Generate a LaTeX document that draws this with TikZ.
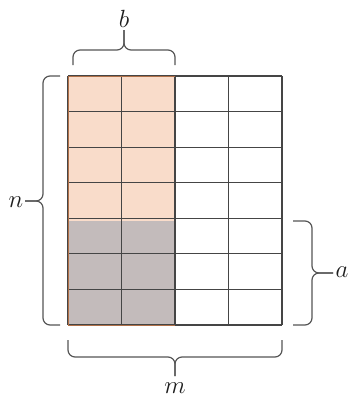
\documentclass[tikz,border=0pt]{standalone}
\usetikzlibrary{calc}
\definecolor{ink}{HTML}{1E1E1E}
\definecolor{gridC}{HTML}{454545}
\definecolor{peachC}{HTML}{F9DCCA}
\definecolor{greyC}{HTML}{C3BBBB}
\definecolor{edgeC}{HTML}{B07048}
\definecolor{braceC}{HTML}{555555}
\tikzset{
  cellgrid/.style={draw=gridC,line width=1.2pt},
  blockedge/.style={draw=edgeC,line width=0.9pt},
  brc/.style={draw=braceC,line width=1.2pt,rounded corners=7pt},
  dimlab/.style={font=\fontsize{26}{30}\selectfont,text=ink,inner sep=0pt}}
\begin{document}
\begin{tikzpicture}[x=1pt,y=-1pt]
\useasboundingbox (0,0) rectangle (350,400);
% matrix corners
\coordinate (tl) at (68,76);
\coordinate (br) at (282,325);
\coordinate (bmid) at (175,221);
% coloured block
\fill[peachC] (tl) rectangle (bmid);
\fill[greyC] (68,221) rectangle (175,325);
\foreach \c in {0,...,4} \draw[cellgrid] ($(tl)+(53.5*\c,0)$) -- ++(0,249);
\foreach \r in {0,...,7} \draw[cellgrid] ($(tl)+(0,35.571*\r)$) -- ++(214,0);
\draw[blockedge] (175,76) -- (tl) -- (68,325) -- (175,325);
% braces
\coordinate (bA) at (73,65);\coordinate (bB) at (175,65);
\draw[brc] (bA) -- (73,50) -- (124,50) -- (124,30);
\draw[brc] (bB) -- (175,50) -- (124,50) -- (124,30);
\node[dimlab] (lb) at (124,19) {$b$};
\coordinate (nA) at (60,76);\coordinate (nB) at (60,325);
\draw[brc] (nA) -- (43,76) -- (43,201) -- (25,201);
\draw[brc] (nB) -- (43,325) -- (43,201) -- (25,201);
\node[dimlab] (ln) at (16,202) {$n$};
\coordinate (aA) at (293,221);\coordinate (aB) at (293,325);
\draw[brc] (aA) -- (312,221) -- (312,273) -- (333,273);
\draw[brc] (aB) -- (312,325) -- (312,273) -- (333,273);
\node[dimlab] (la) at (342,272) {$a$};
\coordinate (mA) at (68,340);\coordinate (mB) at (282,340);
\draw[brc] (mA) -- (68,357) -- (175,357) -- (175,376);
\draw[brc] (mB) -- (282,357) -- (175,357) -- (175,376);
\node[dimlab] (lm) at (175,388) {$m$};
\end{tikzpicture}
\end{document}
